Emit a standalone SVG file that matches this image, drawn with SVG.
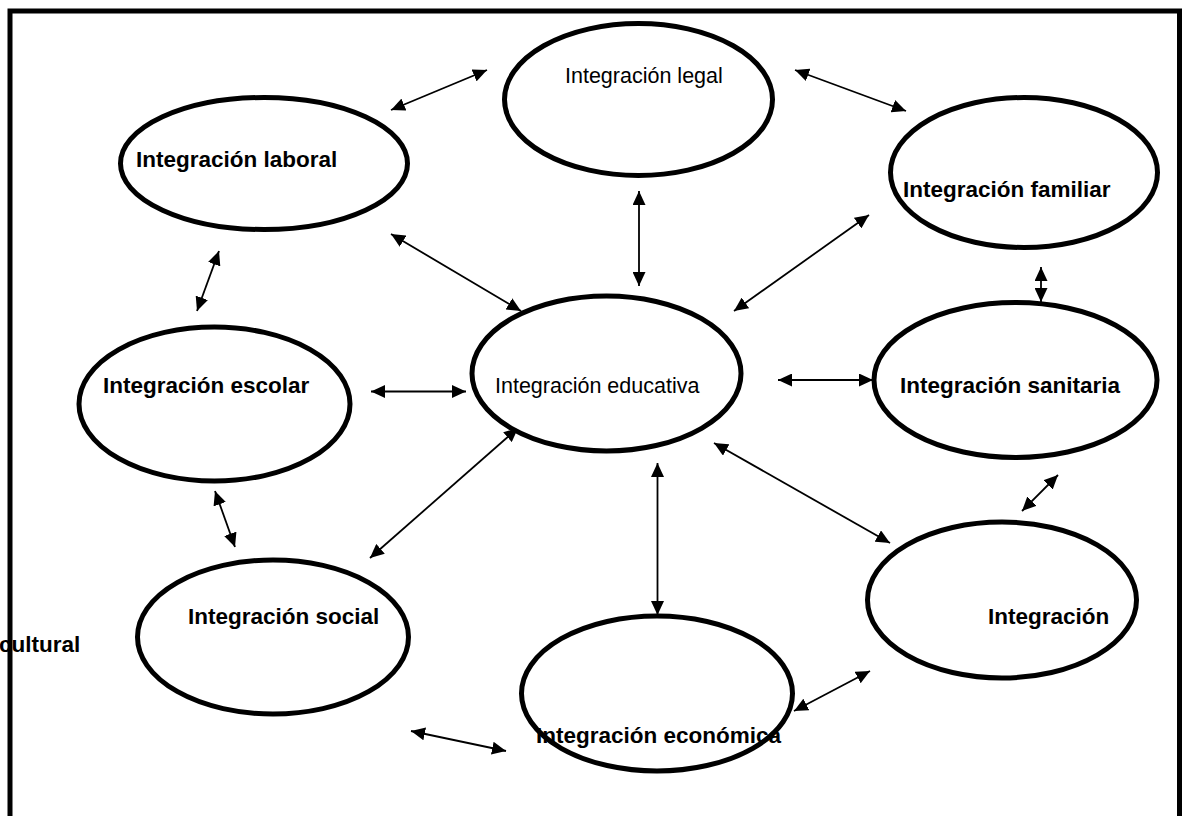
<svg xmlns="http://www.w3.org/2000/svg" width="1182" height="816" viewBox="0 0 1182 816">
<style>
.n .bg{fill:#fff;stroke:none}
.n .ol{fill:none;stroke:#000;stroke-width:5}
.b{font-family:"Liberation Sans",Arial,sans-serif;font-weight:bold;font-size:22.5px;fill:#000}
.r{font-family:"Liberation Sans",Arial,sans-serif;font-size:21.5px;fill:#000}
#connectors line{stroke:#000;stroke-width:1.8;marker-start:url(#ah);marker-end:url(#ah)}
</style>
<defs>
<marker id="ah" viewBox="0 0 14 13" refX="14" refY="6.5" markerWidth="14" markerHeight="13" markerUnits="userSpaceOnUse" orient="auto-start-reverse">
<path d="M0,0 L14,6.5 L0,13 z" fill="#000"/>
</marker>
</defs>
<rect width="1182" height="816" fill="#fff"/>
<text class="b" x="-1" y="652">cultural</text>
<path d="M10,816 V11 H1179.5 V816" fill="none" stroke="#000" stroke-width="5"/>
<g id="connectors">
<line x1="391" y1="110" x2="487" y2="70"/>
<line x1="795" y1="70" x2="906" y2="111"/>
<line x1="391" y1="234" x2="521" y2="311"/>
<line x1="639" y1="191" x2="639" y2="286"/>
<line x1="869" y1="215" x2="734" y2="311"/>
<line x1="219" y1="251" x2="197" y2="311"/>
<line x1="1041" y1="267" x2="1041" y2="302"/>
<line x1="371" y1="391.5" x2="466" y2="391.5"/>
<line x1="778" y1="380" x2="873" y2="380"/>
<line x1="215" y1="491" x2="235" y2="547"/>
<line x1="518" y1="428" x2="370" y2="558"/>
<line x1="714" y1="443" x2="890" y2="543"/>
<line x1="1058" y1="475" x2="1022" y2="511"/>
<line x1="657.5" y1="463" x2="657.5" y2="615"/>
<line x1="794" y1="711" x2="870" y2="671"/>
<line x1="411" y1="731" x2="506" y2="751"/>
</g>
<g id="n-legal" class="n"><ellipse class="bg" cx="638.5" cy="99.5" rx="134" ry="76"/><text class="r" x="565" y="83">Integración legal</text><ellipse class="ol" cx="638.5" cy="99.5" rx="134" ry="76"/></g>
<g id="n-laboral" class="n"><ellipse class="bg" cx="264" cy="163.5" rx="143.5" ry="66"/><text class="b" x="136" y="167">Integración laboral</text><ellipse class="ol" cx="264" cy="163.5" rx="143.5" ry="66"/></g>
<g id="n-familiar" class="n"><ellipse class="bg" cx="1024" cy="172.5" rx="133.5" ry="75"/><text class="b" x="903" y="197">Integración familiar</text><ellipse class="ol" cx="1024" cy="172.5" rx="133.5" ry="75"/></g>
<g id="n-escolar" class="n"><ellipse class="bg" cx="214.5" cy="404" rx="135.5" ry="77"/><text class="b" x="103" y="393">Integración escolar</text><ellipse class="ol" cx="214.5" cy="404" rx="135.5" ry="77"/></g>
<g id="n-educativa" class="n"><ellipse class="bg" cx="606.5" cy="373.5" rx="134.5" ry="77.5"/><text class="r" x="495" y="393">Integración educativa</text><ellipse class="ol" cx="606.5" cy="373.5" rx="134.5" ry="77.5"/></g>
<g id="n-sanitaria" class="n"><ellipse class="bg" cx="1015.5" cy="380" rx="141.5" ry="77.5"/><text class="b" x="900" y="393">Integración sanitaria</text><ellipse class="ol" cx="1015.5" cy="380" rx="141.5" ry="77.5"/></g>
<g id="n-social" class="n"><ellipse class="bg" cx="273" cy="637" rx="135.5" ry="77"/><text class="b" x="188" y="624">Integración social</text><ellipse class="ol" cx="273" cy="637" rx="135.5" ry="77"/></g>
<g id="n-integracion" class="n"><ellipse class="bg" cx="1002" cy="600" rx="134.5" ry="78"/><text class="b" x="988" y="624">Integración</text><ellipse class="ol" cx="1002" cy="600" rx="134.5" ry="78"/></g>
<g id="n-economica" class="n"><ellipse class="bg" cx="657" cy="693.5" rx="135.5" ry="77.5"/><text class="b" x="536" y="743">Integración económica</text><ellipse class="ol" cx="657" cy="693.5" rx="135.5" ry="77.5"/></g>
</svg>
